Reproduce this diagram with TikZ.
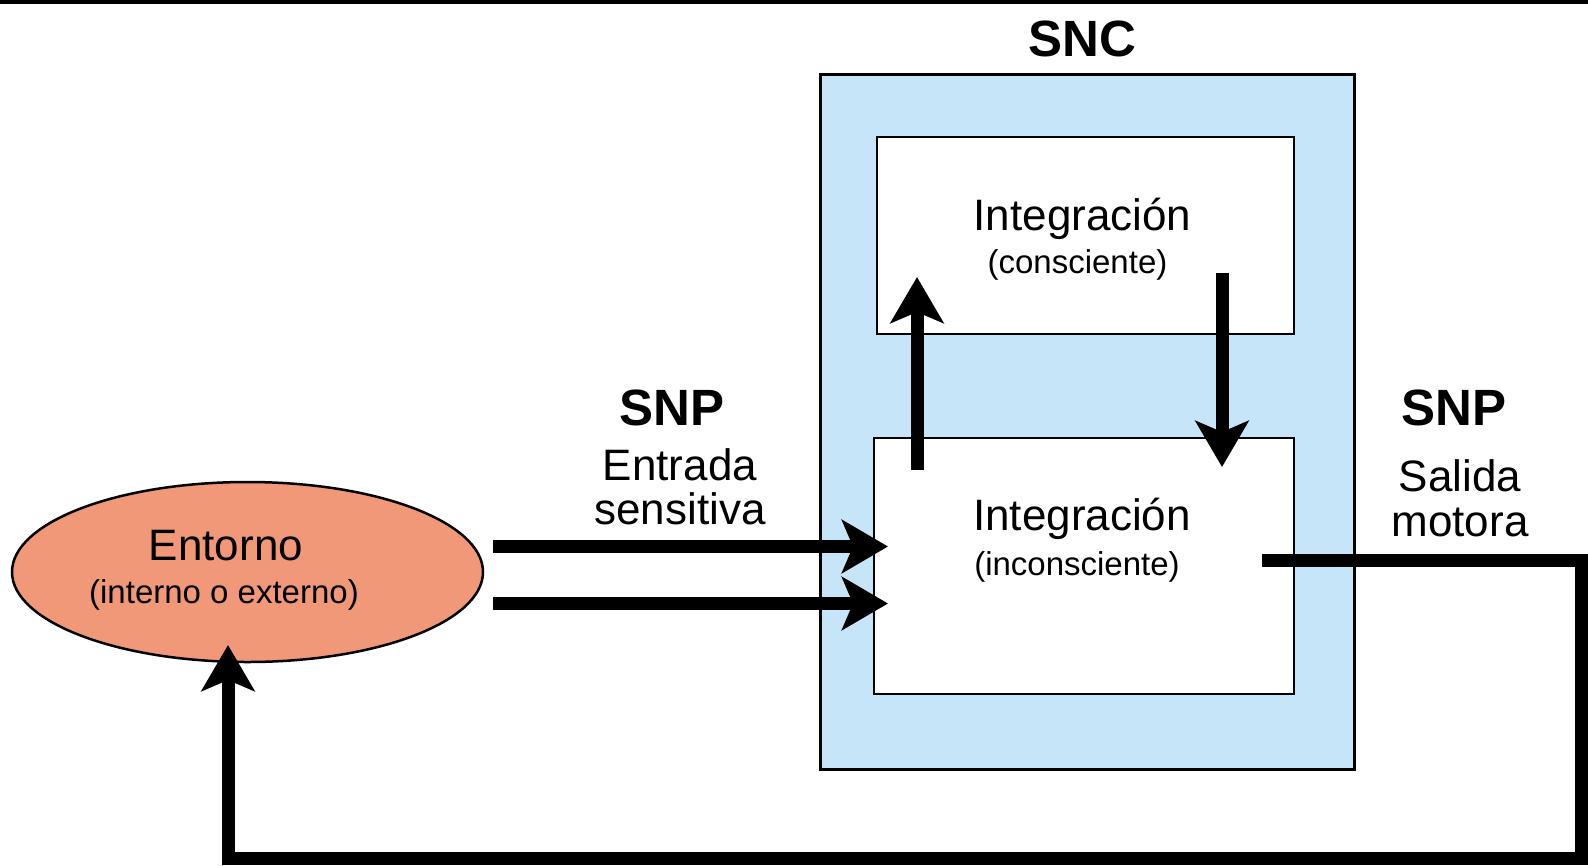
\documentclass[tikz,border=0pt]{standalone}
\usepackage{fontspec}
\setmainfont{Liberation Sans}
\usetikzlibrary{arrows.meta,shapes.geometric}
\definecolor{sncblue}{RGB}{199,229,249}
\definecolor{envsalmon}{RGB}{240,152,120}
\begin{document}
\begin{tikzpicture}[x=1pt,y=-1pt,
  box/.style={draw=black, line width=2.5pt, fill=white, inner sep=0pt, outer sep=0pt},
  flow/.style={line width=13pt, line join=miter, -{Stealth[length=46pt,width=53pt,inset=11pt]}},
  bigtext/.style={font=\fontsize{44}{44}\selectfont, anchor=base, inner sep=0pt},
  smalltext/.style={font=\fontsize{33}{33}\selectfont, anchor=base, inner sep=0pt},
  headtext/.style={font=\bfseries\fontsize{51}{51}\selectfont, anchor=base, inner sep=0pt}]

\useasboundingbox (0,0) rectangle (1588,865);
\fill[white] (0,0) rectangle (1588,865);
\fill[black] (0,0) rectangle (1588,4);

% central nervous system frame and its two integration levels
\node[draw=black, line width=3pt, fill=sncblue, minimum width=534pt, minimum height=695pt,
      inner sep=0pt, outer sep=0pt] (snc) at (1087,421.5) {};
\node[box, minimum width=417pt, minimum height=197pt] (cons) at (1085.5,235.5) {};
\node[box, minimum width=420pt, minimum height=256pt] (incons) at (1084,566) {};

% environment
\node[ellipse, draw=black, line width=2.5pt, fill=envsalmon, minimum width=471pt,
      minimum height=180pt, inner sep=0pt] (env) at (247.5,572) {};

% labels
\node[headtext] (snclbl) at (1082,56.5) {SNC};
\node[bigtext] (consA) at (1082.5,230) {Integración};
\node[smalltext] (consB) at (1077.5,273) {(consciente)};
\node[bigtext] (inconsA) at (1082,530) {Integración};
\node[smalltext] (inconsB) at (1077,575) {(inconsciente)};
\node[bigtext] (envA) at (226,560) {Entorno};
\node[smalltext] (envB) at (224,603) {(interno o externo)};
\node[headtext] (snpin) at (672,425) {SNP};
\node[bigtext] (inA) at (680,480) {Entrada};
\node[bigtext] (inB) at (680,524) {sensitiva};
\node[headtext] (snpout) at (1454,425) {SNP};
\node[bigtext] (outA) at (1460,491) {Salida};
\node[bigtext] (outB) at (1460,536) {motora};

% connector end points
\coordinate (upS) at (917,470);
\coordinate (upE) at (917,277);
\coordinate (dnS) at (1222,273);
\coordinate (dnE) at (1222,467);
\coordinate (in1S) at (493,546.5);
\coordinate (in1E) at (888,546.5);
\coordinate (in2S) at (493,603.5);
\coordinate (in2E) at (888,603.5);
\coordinate (outS) at (1262,560);
\coordinate (bend1) at (1581.5,560);
\coordinate (bend2) at (1581.5,858.5);
\coordinate (bend3) at (228,858.5);
\coordinate (envIn) at (228,645);

% connectors
\draw[flow] (upS) -- (upE);
\draw[flow] (dnS) -- (dnE);
\draw[flow] (in1S) -- (in1E);
\draw[flow] (in2S) -- (in2E);
\draw[flow] (outS) -- (bend1) -- (bend2) -- (bend3) -- (envIn);
\end{tikzpicture}
\end{document}
